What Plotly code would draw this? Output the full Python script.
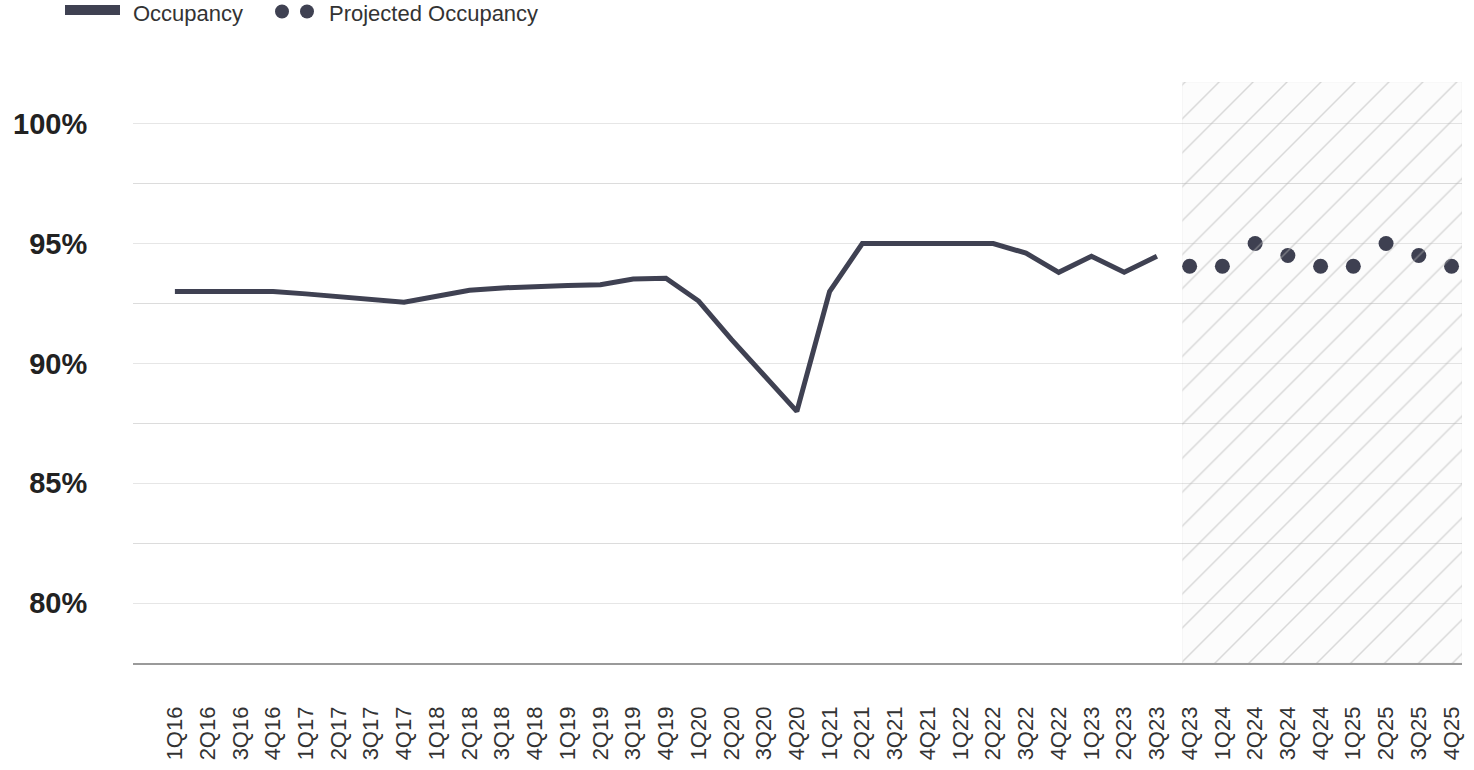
import plotly.graph_objects as go

# ---------------- data ----------------
quarters = ["1Q16", "2Q16", "3Q16", "4Q16", "1Q17", "2Q17", "3Q17", "4Q17",
            "1Q18", "2Q18", "3Q18", "4Q18", "1Q19", "2Q19", "3Q19", "4Q19",
            "1Q20", "2Q20", "3Q20", "4Q20", "1Q21", "2Q21", "3Q21", "4Q21",
            "1Q22", "2Q22", "3Q22", "4Q22", "1Q23", "2Q23", "3Q23", "4Q23",
            "1Q24", "2Q24", "3Q24", "4Q24", "1Q25", "2Q25", "3Q25", "4Q25"]

occupancy = [93.0, 93.0, 93.0, 93.0, 92.9, 92.8, 92.7, 92.55,
             92.8, 93.05, 93.15, 93.22, 93.25, 93.28, 93.52, 93.55,
             92.6, 91.0, 89.5, 88.0, 93.0, 95.0, 95.0, 95.0,
             95.0, 95.0, 94.6, 93.8, 94.47, 93.8, 94.47]

projected = [94.05, 94.05, 95.0, 94.5, 94.05, 94.05, 95.0, 94.5, 94.05]

y_ticks = [80, 85, 90, 95, 100]
y_tick_text = ["80%", "85%", "90%", "95%", "100%"]

legend_labels = ["Occupancy", "Projected Occupancy"]

# ---------------- style / layout constants ----------------
W, H = 1474, 770
ML, MR, MT, MB = 133, 12, 82, 107
LINE_COLOR = "#3f4152"
X_RANGE = [-1.28, 39.32]
Y_RANGE = [77.5, 101.74]
BAND_START = len(occupancy) - 1 + 0.78   # forecast band begins just before 4Q23

occ_x = list(range(len(occupancy)))
proj_x = list(range(len(occupancy), len(occupancy) + len(projected)))

fig = go.Figure()

fig.add_trace(go.Scatter(
    x=occ_x, y=occupancy, mode="lines", name=legend_labels[0],
    line=dict(color=LINE_COLOR, width=5), showlegend=False))

fig.add_trace(go.Scatter(
    x=proj_x, y=projected, mode="markers", name=legend_labels[1],
    marker=dict(color=LINE_COLOR, size=15), showlegend=False))

# hatched forecast band
fig.add_trace(go.Scatter(
    x=[BAND_START, X_RANGE[1], X_RANGE[1], BAND_START, BAND_START],
    y=[Y_RANGE[0], Y_RANGE[0], Y_RANGE[1], Y_RANGE[1], Y_RANGE[0]],
    mode="lines", fill="toself",
    line=dict(color="rgba(0,0,0,0.03)", width=1),
    fillcolor="rgba(0,0,0,0.01)",
    fillpattern=dict(shape="/", size=24, solidity=0.06,
                     fgcolor="rgba(180,180,180,0.5)",
                     bgcolor="rgba(0,0,0,0.01)", fillmode="replace"),
    hoverinfo="skip", showlegend=False))

pw = W - ML - MR
ph = H - MT - MB


def px_x(px):
    return (px - ML) / pw


def px_y(py):
    return (H - MB - py) / ph


shapes = [
    dict(type="rect", xref="paper", yref="paper",
         x0=px_x(65), x1=px_x(120), y0=px_y(15), y1=px_y(5),
         fillcolor=LINE_COLOR, line=dict(width=0)),
    dict(type="circle", xref="paper", yref="paper",
         x0=px_x(275), x1=px_x(289), y0=px_y(18.5), y1=px_y(4.5),
         fillcolor=LINE_COLOR, line=dict(width=0)),
    dict(type="circle", xref="paper", yref="paper",
         x0=px_x(300), x1=px_x(314), y0=px_y(18.5), y1=px_y(4.5),
         fillcolor=LINE_COLOR, line=dict(width=0)),
]

annotations = [
    dict(text=legend_labels[0], xref="paper", yref="paper",
         x=px_x(131), y=px_y(13.5), xanchor="left", yanchor="middle",
         showarrow=False, font=dict(size=22, color="#333333")),
    dict(text=legend_labels[1], xref="paper", yref="paper",
         x=px_x(327), y=px_y(13.5), xanchor="left", yanchor="middle",
         showarrow=False, font=dict(size=22, color="#333333")),
]

fig.update_layout(
    width=W, height=H,
    margin=dict(l=ML, r=MR, t=MT, b=MB, pad=0, autoexpand=False),
    paper_bgcolor="white", plot_bgcolor="white",
    font=dict(family="Liberation Sans, Arial, sans-serif", color="#222222"),
    shapes=shapes, annotations=annotations,
    xaxis=dict(
        range=X_RANGE, tickmode="array", tickvals=list(range(len(quarters))),
        ticktext=quarters, tickangle=-90, showgrid=False, zeroline=False,
        showline=True, linecolor="#9a9a9a", linewidth=1.5,
        ticks="outside", ticklen=33, tickcolor="rgba(0,0,0,0)",
        tickfont=dict(size=22, color="#333333"), fixedrange=True,
        automargin=False),
    yaxis=dict(
        range=Y_RANGE, tickmode="array", tickvals=y_ticks, ticktext=y_tick_text,
        showgrid=True, gridcolor="#e6e6e6", gridwidth=1, zeroline=False,
        showline=False,
        minor=dict(dtick=2.5, tick0=77.5, showgrid=True, gridcolor="#dcdcdc", gridwidth=1),
        ticks="outside", ticklen=39, tickcolor="rgba(0,0,0,0)",
        tickfont=dict(size=29, color="#222222", family="Liberation Sans, Arial, sans-serif", weight="bold"),
        fixedrange=True, automargin=False),
)

fig.write_html("out.html", include_plotlyjs=True, full_html=True,
               config={"displayModeBar": False},
               post_script="document.body.style.margin='0';document.body.style.overflow='hidden';")
